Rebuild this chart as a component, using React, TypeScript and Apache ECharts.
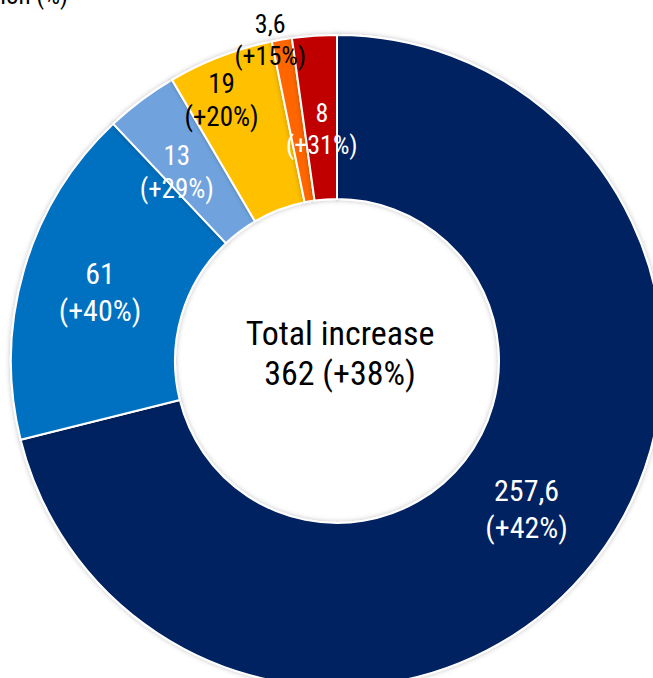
import React, { useEffect, useRef } from "react";
import * as echarts from "echarts";

const categories = ["A", "B", "C", "D", "E", "F"];
const values = [257.6, 61, 13, 19, 3.6, 8];
const valueLabels = ["257,6", "61", "13", "19", "3,6", "8"];
const changeLabels = ["+42%", "+40%", "+29%", "+20%", "+15%", "+31%"];
const colors = ["#002060", "#0070C0", "#6FA3DE", "#FFC000", "#FF6600", "#C00000"];
const labelColors = ["#ffffff", "#ffffff", "#ffffff", "#000000", "#000000", "#ffffff"];
const labelSizes = [30, 30, 27, 27, 26, 26];
const labelShift = [
  [-5, -4],
  [0, 1],
  [-12, 9],
  [-27, -30],
  [-25, -78],
  [2, 14],
];
const totalTitle = "Total increase";
const totalValue = "362 (+38%)";
const cutTitle = "Increase, in million (%)";

const FONT = "'Liberation Sans Narrow', 'Arial Narrow', 'Roboto Condensed', sans-serif";

export default function App() {
  const ref = useRef<HTMLDivElement>(null);
  useEffect(() => {
    document.body.style.margin = "0";
    const chart = echarts.init(ref.current!, undefined, { renderer: "svg" });
    chart.setOption({
      animation: false,
      backgroundColor: "#ffffff",
      graphic: [
        {
          type: "text",
          right: 653 - 68,
          top: -17,
          style: { text: cutTitle, font: `25px ${FONT}`, fill: "#000" },
        },
        {
          type: "text",
          x: 340,
          y: 333,
          style: {
            text: totalTitle,
            font: `34px ${FONT}`,
            fill: "#000",
            textAlign: "center",
            textVerticalAlign: "middle",
          },
        },
        {
          type: "text",
          x: 340,
          y: 373,
          style: {
            text: totalValue,
            font: `34px ${FONT}`,
            fill: "#000",
            textAlign: "center",
            textVerticalAlign: "middle",
          },
        },
      ],
      series: [
        {
          type: "pie",
          center: [337, 361],
          radius: [162, 326],
          startAngle: 90,
          clockwise: true,
          avoidLabelOverlap: false,
          itemStyle: {
            borderColor: "#ffffff",
            borderWidth: 2,
            shadowBlur: 5,
            shadowColor: "rgba(0,0,0,0.25)",
          },
          labelLine: { show: false },
          labelLayout: (p: any) => ({
            dx: labelShift[p.dataIndex][0],
            dy: labelShift[p.dataIndex][1],
          }),
          data: categories.map((c, i) => ({
            name: c,
            value: values[i],
            itemStyle: { color: colors[i] },
            label: {
              show: true,
              position: "inside",
              formatter: `${valueLabels[i]}\n(${changeLabels[i]})`,
              color: labelColors[i],
              fontSize: labelSizes[i],
              lineHeight: Math.round(labelSizes[i] * 1.22),
              fontFamily: FONT,
              align: "center",
            },
          })),
        },
      ],
    });
    return () => chart.dispose();
  }, []);
  return <div ref={ref} style={{ width: 653, height: 678 }} />;
}
